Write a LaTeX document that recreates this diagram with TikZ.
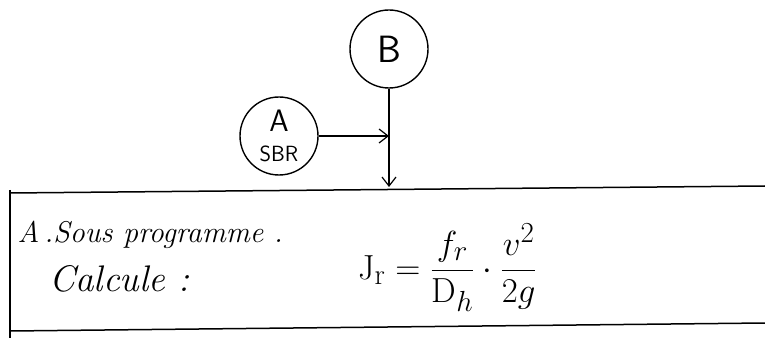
\documentclass[tikz,border=0pt]{standalone}
\usepackage{fontspec}
\usepackage{graphicx}
\usetikzlibrary{arrows.meta}
\begin{document}
\begin{tikzpicture}[x=1pt,y=-1pt,
  circ/.style={draw,circle,line width=1.4pt,minimum size=78pt,inner sep=0pt,align=center},
  edge/.style={line width=1.2pt},
  arr/.style={edge,-{Straight Barb[length=9pt,width=14pt]}},
  boxline/.style={line width=1.5pt}]
\useasboundingbox (0,0) rectangle (765,339);
\node[circ,font=\sffamily\fontsize{38}{40}\selectfont] (B) at (389,49) {B};
\node[circ,font=\sffamily\fontsize{22}{30}\selectfont] (A) at (279,136) {{\fontsize{31}{31}\selectfont A}\\SBR};
\coordinate (T) at (389,187);
\coordinate (M) at (389,136);
\draw[boxline] (10,193) -- (765,186);
\draw[boxline] (10,331) -- (765,323);
\draw[boxline] (10,190) -- (10,338);
\draw[arr] (B.south) -- (T);
\draw[arr] (A.east) -- (M);
\node[anchor=base west,font=\itshape\fontsize{30}{32}\selectfont] (t1) at (14,242) {A\,.Sous programme .};
\node[anchor=base west,font=\itshape\fontsize{37}{39}\selectfont] (t2) at (46,291) {Calcule :};
\node[anchor=base west,inner sep=0pt] (f) at (358,279) {\scalebox{1.4}{\Huge$\displaystyle\mathrm{J_r}=\frac{f_r}{\mathrm{D}_h}\cdot\frac{v^2}{2g}$}};
\end{tikzpicture}
\end{document}
